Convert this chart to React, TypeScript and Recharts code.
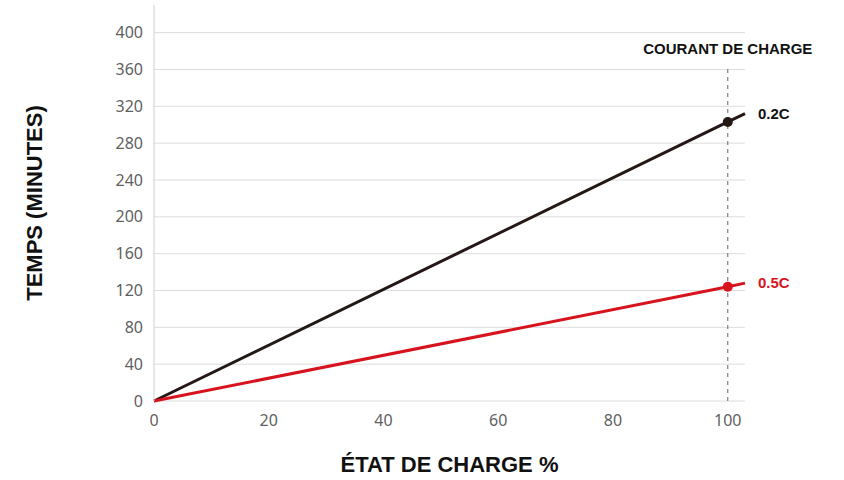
import React from "react"
import { LineChart, Line, XAxis, YAxis, CartesianGrid, ReferenceLine, ReferenceDot, Label } from "recharts"

// état de charge (%)
const charge = [0, 100, 103]
// temps en minutes par courant de charge
const temps02C = [0, 303, 312]
const temps05C = [0, 124, 128]
const xTicks = [0, 20, 40, 60, 80, 100]
const yTicks = [0, 40, 80, 120, 160, 200, 240, 280, 320, 360, 400]
const seuil = 100
const hautRepere = 362

const data = charge.map((c, i) => ({ charge: c, c02: temps02C[i], c05: temps05C[i] }))

const bold = "'Liberation Sans', Arial, sans-serif"
const tickStyle = { fill: "#5f5f5f", fontSize: 16, fontFamily: "'Noto Sans', sans-serif" }

export default function App() {
  const last = charge.length - 1
  return (
    <div style={{ position: "absolute", left: 0, top: 0, width: 844, height: 480, background: "#fff" }}>
      <LineChart width={844} height={480} data={data} margin={{ top: 5, right: 99, bottom: 49, left: 94 }}>
        <CartesianGrid vertical={false} stroke="#dcdcdc" strokeWidth={1} horizontalValues={yTicks} />
        <XAxis
          dataKey="charge"
          type="number"
          domain={[0, 103]}
          ticks={xTicks}
          axisLine={false}
          tickLine={false}
          tick={tickStyle}
          tickMargin={8}
          height={30}
        >
          <Label
            value="ÉTAT DE CHARGE %"
            position="bottom"
            offset={25}
            style={{ fontFamily: bold, fontWeight: 700, fontSize: 22, fill: "#111" }}
          />
        </XAxis>
        <YAxis
          type="number"
          domain={[0, 430]}
          ticks={yTicks}
          axisLine={{ stroke: "#cfcfcf" }}
          tickLine={false}
          tick={tickStyle}
          tickMargin={5}
          width={60}
        >
          <Label
            value="TEMPS (MINUTES)"
            angle={-90}
            position="left"
            offset={60}
            style={{ fontFamily: bold, fontWeight: 700, fontSize: 22, fill: "#111", textAnchor: "middle" }}
          />
        </YAxis>
        <ReferenceLine
          segment={[{ x: seuil, y: 0 }, { x: seuil, y: hautRepere }]}
          stroke="#666"
          strokeDasharray="4 4"
          strokeWidth={1}
        >
          <Label
            value="COURANT DE CHARGE"
            position="top"
            offset={14}
            style={{ fontFamily: bold, fontWeight: 700, fontSize: 15, fill: "#111" }}
          />
        </ReferenceLine>
        <Line dataKey="c02" stroke="#231815" strokeWidth={3} dot={false} isAnimationActive={false} />
        <Line dataKey="c05" stroke="#d7141e" strokeWidth={3} dot={false} isAnimationActive={false} />
        <ReferenceDot x={charge[1]} y={temps02C[1]} r={5} fill="#231815" stroke="none" />
        <ReferenceDot x={charge[1]} y={temps05C[1]} r={5} fill="#d7141e" stroke="none" />
        <ReferenceDot x={charge[last]} y={temps02C[last]} r={1} fill="none" stroke="none">
          <Label
            value="0.2C"
            position="right"
            offset={12}
            style={{ fontFamily: bold, fontWeight: 700, fontSize: 15, fill: "#111" }}
          />
        </ReferenceDot>
        <ReferenceDot x={charge[last]} y={temps05C[last]} r={1} fill="none" stroke="none">
          <Label
            value="0.5C"
            position="right"
            offset={12}
            style={{ fontFamily: bold, fontWeight: 700, fontSize: 15, fill: "#d7141e" }}
          />
        </ReferenceDot>
      </LineChart>
    </div>
  )
}
